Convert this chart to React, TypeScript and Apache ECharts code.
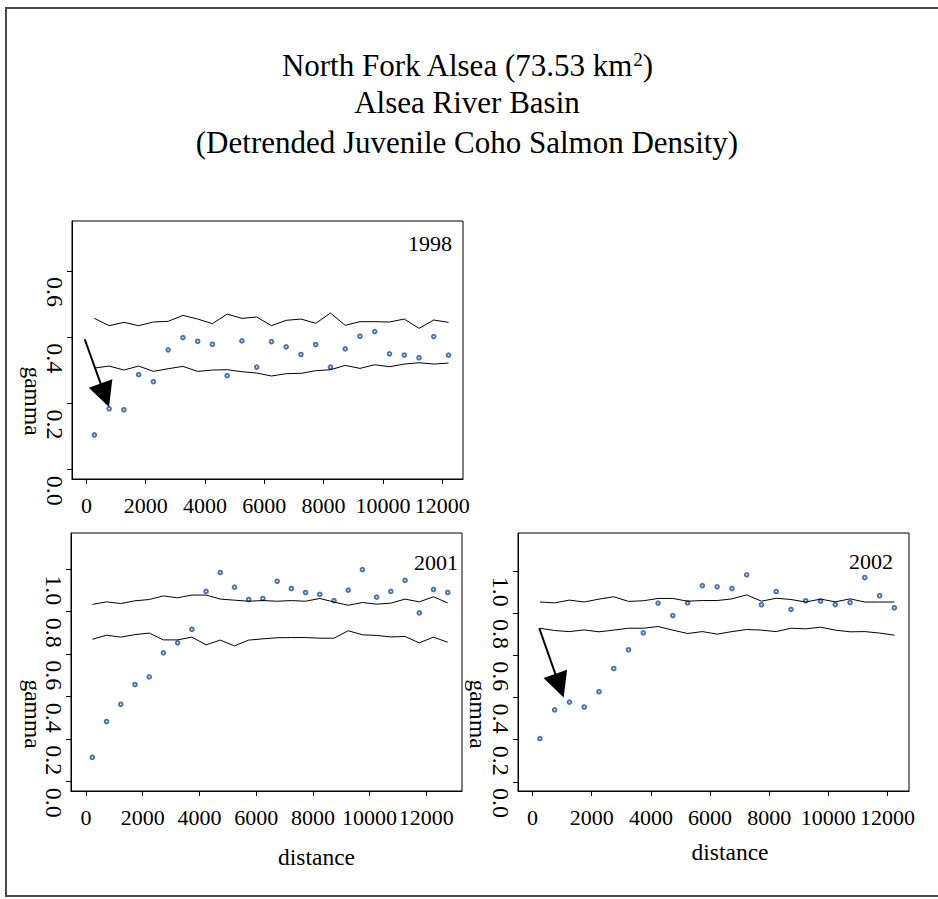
import React, { useEffect, useRef } from "react";
import * as echarts from "echarts";

const FONT = "'Liberation Serif', 'Times New Roman', Times, serif";

const xTicks = [0, 2000, 4000, 6000, 8000, 10000, 12000];
const yTicks1998 = [0, 0.2, 0.4, 0.6];
const yTicks2001 = [0, 0.2, 0.4, 0.6, 0.8, 1.0];
const yTicks2002 = [0, 0.2, 0.4, 0.6, 0.8, 1.0];

const titleLine1 = "North Fork Alsea (73.53 km";
const titleSup = "2";
const titleLine2 = "Alsea River Basin";
const titleLine3 = "(Detrended Juvenile Coho Salmon Density)";
const yearLabels = ["1998", "2001", "2002"];
const yName = "gamma";
const xName = "distance";

const dist1998 = [269, 766, 1264, 1762, 2259, 2757, 3255, 3752, 4250, 4748, 5245, 5743, 6241, 6738, 7236, 7734, 8231, 8729, 9227, 9724, 10222, 10720, 11217, 11715, 12212];
const gamma1998 = [0.105, 0.184, 0.181, 0.287, 0.266, 0.362, 0.399, 0.388, 0.379, 0.284, 0.389, 0.31, 0.387, 0.371, 0.348, 0.378, 0.31, 0.365, 0.403, 0.417, 0.35, 0.346, 0.338, 0.402, 0.346];
const upper1998 = [0.457, 0.435, 0.445, 0.435, 0.446, 0.448, 0.466, 0.455, 0.441, 0.47, 0.457, 0.461, 0.435, 0.451, 0.455, 0.442, 0.473, 0.436, 0.447, 0.447, 0.446, 0.455, 0.427, 0.452, 0.445];
const lower1998 = [0.307, 0.313, 0.301, 0.313, 0.297, 0.305, 0.312, 0.297, 0.301, 0.302, 0.296, 0.292, 0.283, 0.29, 0.291, 0.299, 0.302, 0.315, 0.306, 0.317, 0.311, 0.319, 0.323, 0.319, 0.322];

const dist2001 = [224, 725, 1226, 1728, 2229, 2730, 3231, 3732, 4234, 4735, 5236, 5737, 6238, 6740, 7241, 7742, 8243, 8744, 9246, 9747, 10248, 10749, 11250, 11752, 12253, 12754];
const gamma2001 = [0.115, 0.283, 0.364, 0.457, 0.493, 0.606, 0.653, 0.717, 0.895, 0.984, 0.915, 0.857, 0.862, 0.943, 0.909, 0.89, 0.881, 0.852, 0.901, 0.998, 0.868, 0.895, 0.947, 0.794, 0.904, 0.89];
const upper2001 = [0.834, 0.846, 0.838, 0.851, 0.857, 0.874, 0.865, 0.878, 0.878, 0.859, 0.854, 0.849, 0.852, 0.849, 0.852, 0.849, 0.862, 0.845, 0.83, 0.843, 0.835, 0.84, 0.859, 0.846, 0.87, 0.841];
const lower2001 = [0.67, 0.689, 0.68, 0.692, 0.699, 0.667, 0.667, 0.68, 0.644, 0.666, 0.639, 0.666, 0.672, 0.677, 0.678, 0.678, 0.675, 0.675, 0.71, 0.691, 0.688, 0.681, 0.683, 0.653, 0.68, 0.656];

const dist2002 = [248, 747, 1246, 1746, 2245, 2744, 3244, 3743, 4242, 4741, 5241, 5740, 6239, 6739, 7238, 7737, 8236, 8736, 9235, 9734, 10234, 10733, 11232, 11732, 12231];
const gamma2002 = [0.205, 0.341, 0.378, 0.355, 0.427, 0.537, 0.626, 0.706, 0.847, 0.788, 0.848, 0.93, 0.924, 0.916, 0.981, 0.839, 0.902, 0.817, 0.858, 0.856, 0.84, 0.85, 0.968, 0.882, 0.825];
const upper2002 = [0.852, 0.848, 0.861, 0.852, 0.866, 0.877, 0.855, 0.858, 0.869, 0.869, 0.856, 0.859, 0.859, 0.867, 0.886, 0.856, 0.87, 0.864, 0.852, 0.866, 0.853, 0.867, 0.852, 0.852, 0.852];
const lower2002 = [0.728, 0.717, 0.712, 0.72, 0.711, 0.719, 0.728, 0.728, 0.736, 0.719, 0.703, 0.712, 0.7, 0.712, 0.722, 0.719, 0.712, 0.728, 0.725, 0.733, 0.719, 0.711, 0.712, 0.705, 0.695];

// arrow annotations: [tail, head-centre] in data units
const arrow1998 = [[-57, 0.394], [620, 0.225]];
const arrow2002 = [[226, 0.728], [909, 0.456]];

const zip = (xs: number[], ys: number[]) => xs.map((x, i) => [x, ys[i]]);

const panels = [
  { grid: { left: 72, top: 221, width: 391, height: 258 }, xr: [-486, 12701], yr: [-0.028, 0.751], yTicks: yTicks1998, dist: dist1998, gamma: gamma1998, upper: upper1998, lower: lower1998, arrow: arrow1998 },
  { grid: { left: 71, top: 533, width: 391, height: 258 }, xr: [-529, 13258], yr: [-0.044, 1.17], yTicks: yTicks2001, dist: dist2001, gamma: gamma2001, upper: upper2001, lower: lower2001, arrow: null },
  { grid: { left: 518, top: 533, width: 391, height: 258 }, xr: [-493, 12726], yr: [-0.043, 1.179], yTicks: yTicks2002, dist: dist2002, gamma: gamma2002, upper: upper2002, lower: lower2002, arrow: arrow2002 },
];

function buildOption() {
  const grid = panels.map((p) => ({ ...p.grid, show: true, borderColor: "#000", borderWidth: 1, backgroundColor: "transparent" }));
  const xAxis = panels.map((p, i) => ({
    type: "value",
    gridIndex: i,
    min: p.xr[0],
    max: p.xr[1],
    axisLine: { show: true, onZero: false, lineStyle: { color: "#000", width: 1 } },
    axisTick: { show: true, length: 5, customValues: xTicks, lineStyle: { color: "#000", width: 1 } },
    axisLabel: { show: true, customValues: xTicks, margin: 15, color: "#000", fontFamily: FONT, fontSize: 22, formatter: (v: number) => String(v) },
    splitLine: { show: false },
  }));
  const yAxis = panels.map((p, i) => ({
    type: "value",
    gridIndex: i,
    min: p.yr[0],
    max: p.yr[1],
    axisLine: { show: true, onZero: false, lineStyle: { color: "#000", width: 1 } },
    axisTick: { show: true, length: 5, customValues: p.yTicks, lineStyle: { color: "#000", width: 1 } },
    axisLabel: {
      show: true,
      customValues: p.yTicks,
      rotate: -90,
      align: "left",
      padding: [0, 0, 0, 6],
      margin: 5,
      color: "#000",
      fontFamily: FONT,
      fontSize: 24,
      formatter: (v: number) => v.toFixed(1),
    },
    splitLine: { show: false },
  }));
  const series: any[] = [];
  panels.forEach((p, i) => {
    series.push({
      type: "line",
      xAxisIndex: i,
      yAxisIndex: i,
      data: zip(p.dist, p.upper),
      symbol: "none",
      lineStyle: { color: "#000", width: 1 },
      silent: true,
    });
    const lowerSeries: any = {
      type: "line",
      xAxisIndex: i,
      yAxisIndex: i,
      data: zip(p.dist, p.lower),
      symbol: "none",
      lineStyle: { color: "#000", width: 1 },
      silent: true,
    };
    if (p.arrow) {
      lowerSeries.markLine = {
        silent: true,
        symbol: ["none", "triangle"],
        symbolSize: 25,
        label: { show: false },
        lineStyle: { color: "#000", width: 2, type: "solid" },
        data: [[{ coord: p.arrow[0] }, { coord: p.arrow[1] }]],
      };
    }
    series.push(lowerSeries);
    series.push({
      type: "scatter",
      xAxisIndex: i,
      yAxisIndex: i,
      data: zip(p.dist, p.gamma),
      symbol: "emptyCircle",
      symbolSize: 3.6,
      itemStyle: { color: "#1b52a0", borderWidth: 1.2 },
      silent: true,
    });
  });

  const txt = (text: string, x: number, y: number, size: number, align: string, rot = 0) => ({
    type: "text",
    x,
    y,
    rotation: rot,
    silent: true,
    style: {
      text,
      fontFamily: FONT,
      fontSize: size,
      fill: "#000",
      align,
      verticalAlign: "middle",
      textAlign: align,
      textVerticalAlign: "middle",
    },
  });

  const graphic = [
    { type: "rect", silent: true, shape: { x: 6, y: 8, width: 940, height: 888 }, style: { fill: "none", stroke: "#4a4a4a", lineWidth: 2 } },
    {
      type: "text",
      x: 467,
      y: 65,
      silent: true,
      style: {
        text: `{a|${titleLine1}}{s|${titleSup}}{a|)}`,
        align: "center",
        verticalAlign: "middle",
        textAlign: "center",
        textVerticalAlign: "middle",
        fill: "#000",
        fontFamily: FONT,
        fontSize: 31,
        rich: {
          a: { fontFamily: FONT, fontSize: 31, lineHeight: 31, fill: "#000" },
          s: { fontFamily: FONT, fontSize: 19, lineHeight: 27, verticalAlign: "top", fill: "#000" },
        },
      },
    },
    txt(titleLine2, 467, 102.5, 31, "center"),
    txt(titleLine3, 467, 142.5, 31, "center"),
    txt(yearLabels[0], 452, 243, 22, "right"),
    txt(yearLabels[1], 458, 562.5, 22, "right"),
    txt(yearLabels[2], 893, 561.5, 22, "right"),
    txt(yName, 33, 401, 23.5, "center", -Math.PI / 2),
    txt(yName, 33.3, 714, 23.5, "center", -Math.PI / 2),
    txt(yName, 478.4, 714, 23.5, "center", -Math.PI / 2),
    txt(xName, 316.5, 857, 23.5, "center"),
    txt(xName, 730, 852, 23.5, "center"),
  ];

  return {
    animation: false,
    backgroundColor: "#fff",
    textStyle: { fontFamily: FONT },
    grid,
    xAxis,
    yAxis,
    series,
    graphic: { elements: graphic },
  };
}

export default function App() {
  const ref = useRef<HTMLDivElement>(null);
  useEffect(() => {
    if (!ref.current) return;
    const chart = echarts.init(ref.current, null, { renderer: "svg" });
    chart.setOption(buildOption() as any);
    return () => chart.dispose();
  }, []);
  return (
    <div
      ref={ref}
      style={{ position: "absolute", left: 0, top: 0, width: 938, height: 899, background: "#fff" }}
    />
  );
}
